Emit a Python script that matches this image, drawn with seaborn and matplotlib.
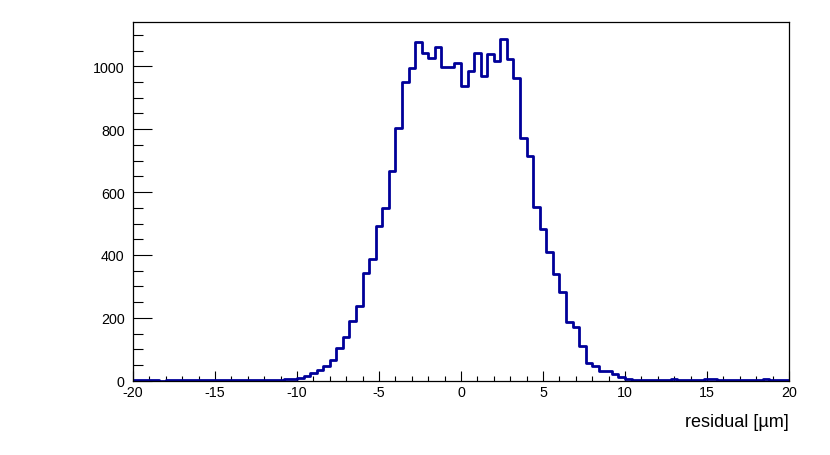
import numpy as np
import pandas as pd
import matplotlib
matplotlib.use("Agg")
import matplotlib.pyplot as plt
from matplotlib.ticker import MultipleLocator
import seaborn as sns

# ---- data: 100 bins of width 0.4 from -20 to 20 ----
x_min, x_max, bin_width = -20, 20, 0.4
left_tail = [3, 2, 1, 2, 0, 1, 2, 1, 3, 2, 1, 2, 3, 1, 2, 2, 3, 2, 1, 3, 2, 3, 2, 4, 5]
core = [9, 16, 24, 35, 48, 67, 103, 140, 189, 239,
        343, 387, 491, 550, 668, 805, 951, 996, 1076, 1042,
        1028, 1060, 997, 997, 1010,
        936, 986, 1041, 968, 1040, 1017, 1087, 1023, 963, 772,
        716, 553, 483, 408, 339, 281, 186, 170, 111, 55,
        48, 30, 30, 21, 13]
right_tail = [4, 3, 2, 3, 2, 1, 2, 4, 3, 2, 3, 2, 5, 6, 3, 3, 2, 2, 1, 2, 3, 4, 2, 3, 2]
counts = left_tail + core + right_tail
xlabel = "residual [\u00b5m]"

n_bins = len(counts)
centers = x_min + bin_width * (np.arange(n_bins) + 0.5)
df = pd.DataFrame({"x": centers, "w": counts})

sns.set_style("ticks")
plt.rcParams["font.family"] = ["Liberation Sans", "DejaVu Sans"]
plt.rcParams["axes.unicode_minus"] = False
for k in ["text.color", "axes.labelcolor", "xtick.color", "ytick.color", "axes.edgecolor"]:
    plt.rcParams[k] = "black"

fig = plt.figure(figsize=(8.30, 4.56), dpi=100)
ax = fig.add_axes([133 / 830, 1 - 381.7 / 456, (789 - 133) / 830, (381.7 - 22.7) / 456])

sns.histplot(data=df, x="x", weights="w", binwidth=bin_width, binrange=(x_min, x_max),
             element="step", fill=False, color="#000099", linewidth=2.0, ax=ax)

ax.set_xlim(x_min, x_max)
ax.set_ylim(0, 1142)
ax.set_ylabel("")
ax.set_xlabel(xlabel, fontsize=13, loc="right", labelpad=10, color="black")

ax.xaxis.set_major_locator(MultipleLocator(5))
ax.xaxis.set_minor_locator(MultipleLocator(1))
ax.yaxis.set_major_locator(MultipleLocator(200))
ax.yaxis.set_minor_locator(MultipleLocator(50))

ax.tick_params(axis="x", which="major", direction="in", length=7.2, width=0.8,
               labelsize=10.3, pad=3, top=False, colors="black")
ax.tick_params(axis="x", which="minor", direction="in", length=3.6, width=0.8, top=False,
               colors="black")
ax.tick_params(axis="y", which="major", direction="in", length=13.7, width=0.8,
               labelsize=10.3, pad=6, right=False, colors="black")
ax.tick_params(axis="y", which="minor", direction="in", length=7.2, width=0.8, right=False,
               colors="black")

for s in ax.spines.values():
    s.set_visible(True)
    s.set_linewidth(0.9)
    s.set_color("black")

fig.savefig("out.png", dpi=100)
